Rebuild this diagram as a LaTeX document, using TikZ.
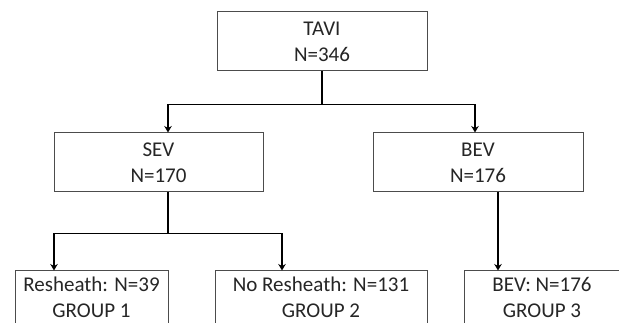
\documentclass[tikz,border=0pt]{standalone}
\usepackage{fontspec}
\setmainfont{Carlito}
\usetikzlibrary{arrows.meta}
\begin{document}
\begin{tikzpicture}[x=1pt,y=1pt,
  box/.style={draw=black!70, line width=1pt, minimum height=59pt, align=center,
    font=\fontsize{21}{26}\selectfont, inner sep=0pt, text=black!85},
  conn/.style={draw=black, line width=1.8pt},
  arr/.style={conn, -{Stealth[length=6.5pt,width=7.5pt]}}]
\useasboundingbox (0,0) rectangle (619,-323);
\clip (0,0) rectangle (619,-323);
\fill[white] (0,0) rectangle (619,-323);
\node[box, minimum width=210pt] (tavi) at (322,-41.5) {TAVI\\N=346};
\node[box, minimum width=209pt] (sev) at (158.5,-162.5) {SEV\\N=170};
\node[box, minimum width=210pt] (bev) at (478,-162.5) {BEV\\N=176};
\node[box, minimum width=153pt, minimum height=53.5pt] (g1) at (91.5,-297.75) {Resheath: N=39\\GROUP 1};
\node[box, minimum width=212pt, minimum height=53.5pt] (g2) at (321,-297.75) {No Resheath: N=131\\GROUP 2};
\node[box, minimum width=156pt, minimum height=53.5pt] (g3) at (542,-297.75) {BEV: N=176\\GROUP 3};
\draw[conn] (tavi.south) -- ++(0,-33) coordinate (j1);
\draw[arr] (j1) -| ([xshift=9.5pt]sev.north);
\draw[arr] (j1) -| ([xshift=-3pt]bev.north);
\draw[conn] ([xshift=9.5pt]sev.south) -- ++(0,-41) coordinate (j2);
\draw[arr] (j2) -| ([xshift=-37.5pt]g1.north);
\draw[arr] (j2) -| ([xshift=-39pt]g2.north);
\draw[arr] ([xshift=20pt]bev.south) -- ([xshift=-44pt]g3.north);
\end{tikzpicture}
\end{document}
